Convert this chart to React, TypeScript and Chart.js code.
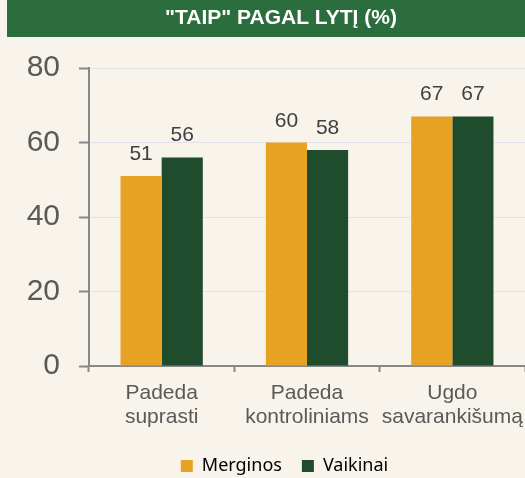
import React, { useEffect, useRef } from "react";
import { Chart, registerables } from "chart.js";

Chart.register(...registerables);

const TITLE = '"TAIP" PAGAL LYTĮ (%)';
const categories: string[][] = [
  ["Padeda", "suprasti"],
  ["Padeda", "kontroliniams"],
  ["Ugdo", "savarankišumą"],
];
const seriesNames = ["Merginos", "Vaikinai"];
const merginos = [51, 60, 67];
const vaikinai = [56, 58, 67];
const yTicks = [0, 20, 40, 60, 80];

const BG = "#f8f4ec";
const TITLE_GREEN = "#2b6d3c";
const ORANGE = "#e8a223";
const DARK_GREEN = "#1e4c2c";
const AXIS = "#878787";
const GRID = "#dfe3e8";
const LABEL = "#595959";

const W = 562;
const H = 478;

const bgPlugin = {
  id: "bgTitle",
  afterLayout(chart: any) {
    const lg = chart.legend;
    if (lg) {
      lg.left += 22;
      lg.right += 22;
    }
  },
  beforeDraw(chart: any) {
    const { ctx } = chart;
    ctx.save();
    ctx.fillStyle = BG;
    ctx.fillRect(0, 0, chart.width, chart.height);
    ctx.fillStyle = TITLE_GREEN;
    ctx.fillRect(7, 0, chart.width - 7, 37);
    ctx.fillStyle = "#ffffff";
    ctx.font = "bold 21px 'Liberation Sans', Arial, sans-serif";
    ctx.textAlign = "center";
    ctx.textBaseline = "alphabetic";
    ctx.fillText(TITLE, 281, 24);
    ctx.restore();
  },
};

const valueLabels = {
  id: "valueLabels",
  afterDatasetsDraw(chart: any) {
    const { ctx } = chart;
    ctx.save();
    ctx.fillStyle = "#404040";
    ctx.font = "21px 'Liberation Sans', Arial, sans-serif";
    ctx.textAlign = "center";
    ctx.textBaseline = "alphabetic";
    chart.data.datasets.forEach((ds: any, di: number) => {
      const meta = chart.getDatasetMeta(di);
      meta.data.forEach((bar: any, i: number) => {
        ctx.fillText(String(ds.data[i]), bar.x, bar.y - 16);
      });
    });
    ctx.restore();
  },
};

export default function App() {
  const ref = useRef<HTMLCanvasElement>(null);
  useEffect(() => {
    if (!ref.current) return;
    const chart = new Chart(ref.current, {
      type: "bar",
      data: {
        labels: categories,
        datasets: [
          { label: seriesNames[0], data: merginos, backgroundColor: ORANGE, borderWidth: 0 },
          { label: seriesNames[1], data: vaikinai, backgroundColor: DARK_GREEN, borderWidth: 0 },
        ],
      },
      options: {
        animation: false,
        responsive: false,
        devicePixelRatio: 1,
        layout: { padding: { top: 68, left: 0, right: 37, bottom: -7 } },
        datasets: { bar: { categoryPercentage: 0.566, barPercentage: 1 } },
        scales: {
          x: {
            grid: {
              display: true,
              drawOnChartArea: false,
              drawTicks: true,
              tickLength: 6,
              tickWidth: 2,
              tickColor: AXIS,
              offset: true,
            },
            border: { display: true, color: AXIS, width: 2 },
            ticks: {
              color: LABEL,
              font: { family: "'Liberation Sans', Arial, sans-serif", size: 21, lineHeight: 1.11 },
              padding: 10,
              maxRotation: 0,
              minRotation: 0,
              autoSkip: false,
            },
            afterFit(scale: any) {
              scale.height = 71;
            },
          },
          y: {
            min: 0,
            max: 80,
            afterBuildTicks(scale: any) {
              scale.ticks = yTicks.map((v) => ({ value: v }));
            },
            grid: {
              color: GRID,
              lineWidth: 1,
              tickLength: 10,
              tickWidth: 2,
              tickColor: AXIS,
            },
            border: { display: true, color: AXIS, width: 2 },
            ticks: {
              color: LABEL,
              font: { family: "'Liberation Sans', Arial, sans-serif", size: 30 },
              padding: 19,
            },
            afterFit(scale: any) {
              scale.width = 89;
            },
          },
        },
        plugins: {
          title: { display: false },
          tooltip: { enabled: false },
          legend: {
            display: true,
            position: "bottom",
            labels: {
              color: "#000000",
              font: { family: "'Noto Sans', sans-serif", size: 18 },
              boxWidth: 12,
              boxHeight: 12,
              padding: 20,
            },
          },
        },
      },
      plugins: [bgPlugin, valueLabels],
    });
    return () => chart.destroy();
  }, []);

  return (
    <div
      style={{
        position: "absolute",
        left: 0,
        top: 0,
        width: 525,
        height: 478,
        overflow: "hidden",
        background: BG,
      }}
    >
      <canvas ref={ref} width={W} height={H} style={{ display: "block", width: W, height: H }} />
    </div>
  );
}
